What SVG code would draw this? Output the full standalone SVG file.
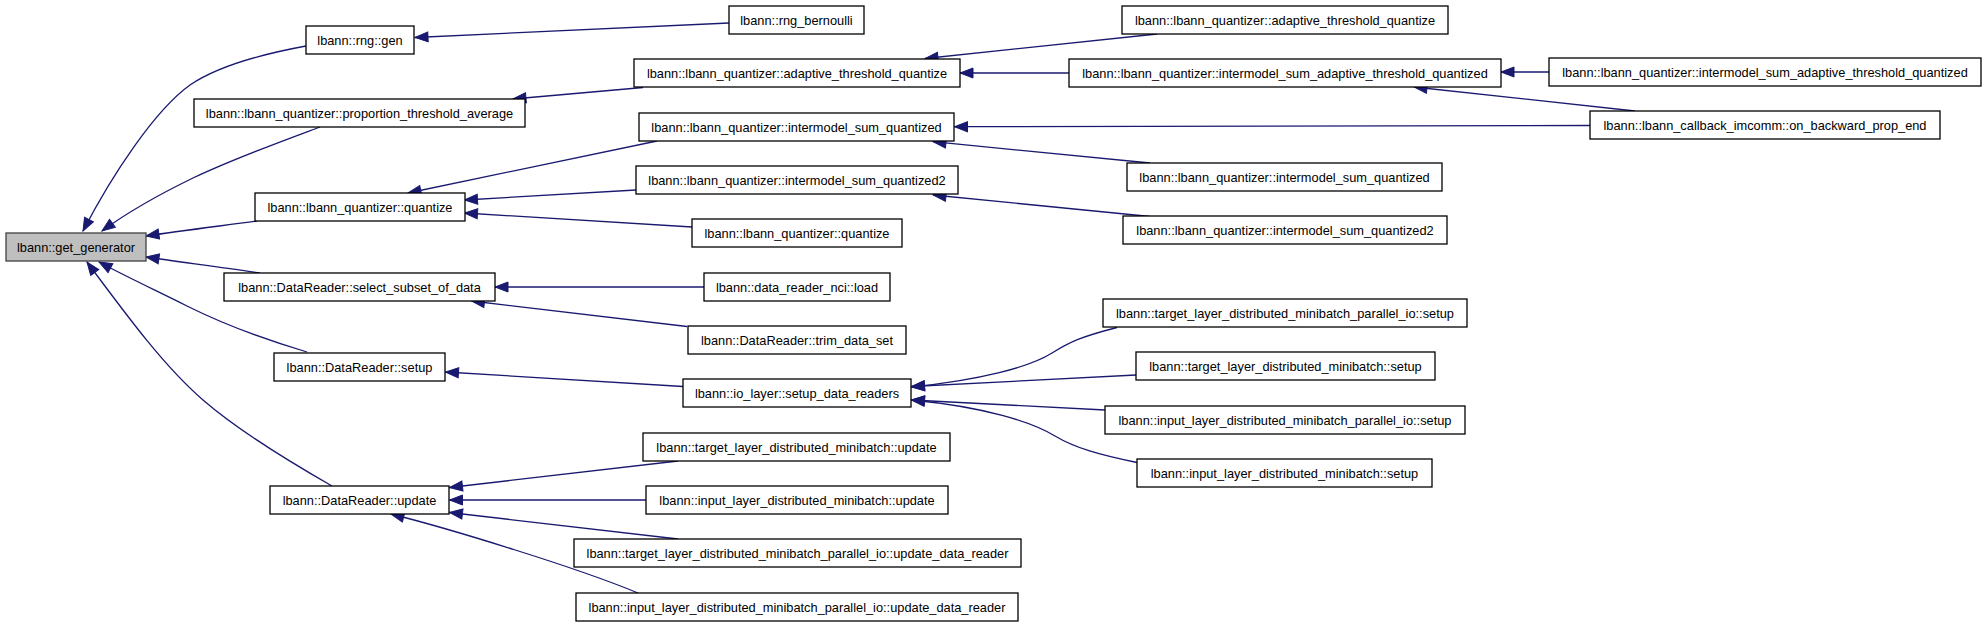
<svg xmlns="http://www.w3.org/2000/svg" width="1987" height="627" viewBox="0 0 1987 627">
<style>
  .n rect { fill: #ffffff; stroke: #000000; stroke-width: 1.3; }
  .n text { font-family: "Liberation Sans", Arial, sans-serif; font-size: 12.8px; text-anchor: middle; fill: #000000; }
  #n_get_generator rect { fill: #bfbfbf; stroke: #404040; }
  .e path { fill: none; stroke: #191970; stroke-width: 1.3; marker-end: url(#arr); }
</style>
<defs>
  <marker id="arr" markerUnits="userSpaceOnUse" markerWidth="15" markerHeight="12" refX="13" refY="5" orient="auto" overflow="visible">
    <path d="M0,0 L13,5 L0,10 z" fill="#191970" stroke="#191970" stroke-width="1"/>
  </marker>
</defs>
<rect width="1987" height="627" fill="#ffffff"/>

<g id="edges" class="e">
  <path d="M306,46 C257,55 215,68 190,85 C155,110 112,175 83,231"/>
  <path d="M320,127 C285,140 235,158 193,178 C160,194 128,212 102,231"/>
  <path d="M257,221 C220,226 180,231 146,236"/>
  <path d="M260,273 C220,267 180,262 146,257"/>
  <path d="M307,352 C270,341 225,325 187,306 C155,290 125,276 99,262"/>
  <path d="M332,486 C290,462 240,432 203,400 C165,367 130,320 87,262"/>
  <path d="M729,23 L415,37.5"/>
  <path d="M643,87.5 L513,99"/>
  <path d="M1157,34 L925,58.5"/>
  <path d="M1069,73 L960,73"/>
  <path d="M1549,72 L1501,72"/>
  <path d="M1635,111 L1414,87"/>
  <path d="M657,141 L408,193"/>
  <path d="M636,190 L464.5,200"/>
  <path d="M692,227 L464.5,213"/>
  <path d="M1590,125.5 L954.5,126.7"/>
  <path d="M1150,163 L933,141.7"/>
  <path d="M1150,216.5 L933,195"/>
  <path d="M704,287 L495,287"/>
  <path d="M687,326.5 L471.5,301"/>
  <path d="M683,386.5 L445.5,372"/>
  <path d="M1117,327.5 C1080,337 1070,342 1052,353 C1030,367 980,380 911.5,387"/>
  <path d="M1136,375 L911.5,386.5"/>
  <path d="M1105,410 L911.5,400"/>
  <path d="M1137,462.5 C1100,455 1075,448 1055,436 C1032,422 985,407 911.5,400"/>
  <path d="M678,461 L449.5,487.5"/>
  <path d="M646,500 L449.5,500"/>
  <path d="M678,539 L449.5,512.5"/>
  <path d="M638,593 C578,568 451,529 391,514"/>
</g>

<g id="n_get_generator" class="n"><rect x="6" y="233" width="140" height="28"/><text x="76" y="251.5">lbann::get_generator</text></g>
<g id="n_rng_gen" class="n"><rect x="306" y="26" width="108" height="28"/><text x="360" y="44.5">lbann::rng::gen</text></g>
<g id="n_pta" class="n"><rect x="194" y="99" width="331" height="28"/><text x="359.5" y="117.5">lbann::lbann_quantizer::proportion_threshold_average</text></g>
<g id="n_quantize" class="n"><rect x="255" y="193" width="210" height="28"/><text x="360" y="211.5">lbann::lbann_quantizer::quantize</text></g>
<g id="n_ssd" class="n"><rect x="224" y="273" width="271" height="28"/><text x="359.5" y="291.5">lbann::DataReader::select_subset_of_data</text></g>
<g id="n_dr_setup" class="n"><rect x="274" y="353" width="171" height="28"/><text x="359.5" y="371.5">lbann::DataReader::setup</text></g>
<g id="n_dr_update" class="n"><rect x="270" y="486" width="179" height="28"/><text x="359.5" y="504.5">lbann::DataReader::update</text></g>

<g id="n_rng_bernoulli" class="n"><rect x="729" y="6" width="135" height="28"/><text x="796.5" y="24.5">lbann::rng_bernoulli</text></g>
<g id="n_atq_mid" class="n"><rect x="634" y="59" width="326" height="28"/><text x="797" y="77.5">lbann::lbann_quantizer::adaptive_threshold_quantize</text></g>
<g id="n_isq_mid" class="n"><rect x="639" y="113" width="315" height="28"/><text x="796.5" y="131.5">lbann::lbann_quantizer::intermodel_sum_quantized</text></g>
<g id="n_isq2_mid" class="n"><rect x="636" y="166" width="322" height="28"/><text x="797" y="184.5">lbann::lbann_quantizer::intermodel_sum_quantized2</text></g>
<g id="n_quantize_mid" class="n"><rect x="692" y="219" width="210" height="28"/><text x="797" y="237.5">lbann::lbann_quantizer::quantize</text></g>
<g id="n_nci_load" class="n"><rect x="704" y="273" width="186" height="28"/><text x="797" y="291.5">lbann::data_reader_nci::load</text></g>
<g id="n_trim" class="n"><rect x="688" y="326" width="218" height="28"/><text x="797" y="344.5">lbann::DataReader::trim_data_set</text></g>
<g id="n_sdr" class="n"><rect x="683" y="379" width="228" height="28"/><text x="797" y="397.5">lbann::io_layer::setup_data_readers</text></g>
<g id="n_target_update" class="n"><rect x="643" y="433" width="307" height="28"/><text x="796.5" y="451.5">lbann::target_layer_distributed_minibatch::update</text></g>
<g id="n_input_update" class="n"><rect x="646" y="486" width="302" height="28"/><text x="797" y="504.5">lbann::input_layer_distributed_minibatch::update</text></g>
<g id="n_target_par_udr" class="n"><rect x="574" y="539" width="447" height="28"/><text x="797.5" y="557.5">lbann::target_layer_distributed_minibatch_parallel_io::update_data_reader</text></g>
<g id="n_input_par_udr" class="n"><rect x="576" y="593" width="442" height="28"/><text x="797" y="611.5">lbann::input_layer_distributed_minibatch_parallel_io::update_data_reader</text></g>

<g id="n_atq_right" class="n"><rect x="1122" y="6" width="326" height="28"/><text x="1285" y="24.5">lbann::lbann_quantizer::adaptive_threshold_quantize</text></g>
<g id="n_isatq_mid" class="n"><rect x="1069" y="59" width="432" height="28"/><text x="1285" y="77.5">lbann::lbann_quantizer::intermodel_sum_adaptive_threshold_quantized</text></g>
<g id="n_isq_right" class="n"><rect x="1127" y="163" width="315" height="28"/><text x="1284.5" y="181.5">lbann::lbann_quantizer::intermodel_sum_quantized</text></g>
<g id="n_isq2_right" class="n"><rect x="1123" y="216" width="324" height="28"/><text x="1285" y="234.5">lbann::lbann_quantizer::intermodel_sum_quantized2</text></g>
<g id="n_target_par_setup" class="n"><rect x="1103" y="299" width="364" height="28"/><text x="1285" y="317.5">lbann::target_layer_distributed_minibatch_parallel_io::setup</text></g>
<g id="n_target_setup" class="n"><rect x="1136" y="352" width="299" height="28"/><text x="1285.5" y="370.5">lbann::target_layer_distributed_minibatch::setup</text></g>
<g id="n_input_par_setup" class="n"><rect x="1105" y="406" width="360" height="28"/><text x="1285" y="424.5">lbann::input_layer_distributed_minibatch_parallel_io::setup</text></g>
<g id="n_input_setup" class="n"><rect x="1137" y="459" width="295" height="28"/><text x="1284.5" y="477.5">lbann::input_layer_distributed_minibatch::setup</text></g>

<g id="n_isatq_right" class="n"><rect x="1549" y="58" width="432" height="28"/><text x="1765" y="76.5">lbann::lbann_quantizer::intermodel_sum_adaptive_threshold_quantized</text></g>
<g id="n_on_backward" class="n"><rect x="1590" y="111" width="350" height="28"/><text x="1765" y="129.5">lbann::lbann_callback_imcomm::on_backward_prop_end</text></g>
</svg>
